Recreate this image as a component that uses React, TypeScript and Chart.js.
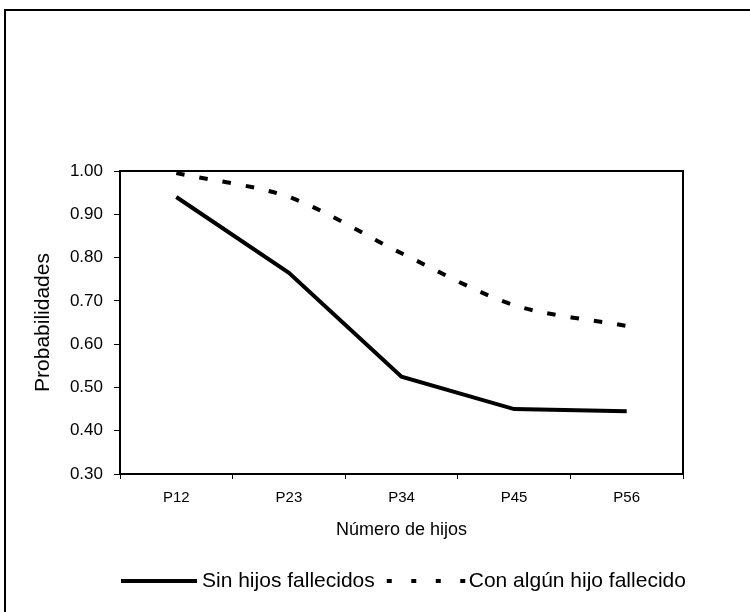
import React, { useEffect, useRef } from "react";
import { Chart, registerables } from "chart.js";

Chart.register(...registerables);

// ---- data ----
const categories = ["P12", "P23", "P34", "P45", "P56"];
const sinHijosFallecidos = [0.94, 0.765, 0.525, 0.45, 0.445];
const conAlgunHijoFallecido = [0.995, 0.94, 0.81, 0.69, 0.642];
const seriesLabels = ["Sin hijos fallecidos", "Con algún hijo fallecido"];
const yMin = 0.3;
const yMax = 1.0;
const yStep = 0.1;
const xTitle = "Número de hijos";
const yTitle = "Probabilidades";

const FONT = "'Liberation Sans', Arial, sans-serif";

const legendDashes = [[], [5, 19.5]];
const legendSampleWidths = [76, 79];
const legendTextGaps = [5, 3];

const framePlugin = {
  id: "frame",
  beforeDraw(chart: any) {
    const { ctx, width, height } = chart;
    ctx.save();
    ctx.strokeStyle = "#000";
    ctx.lineWidth = 2;
    ctx.beginPath();
    ctx.moveTo(5, height);
    ctx.lineTo(5, 10);
    ctx.lineTo(width, 10);
    ctx.stroke();
    ctx.restore();
  },
  afterDraw(chart: any) {
    const { ctx, chartArea } = chart;
    ctx.save();
    ctx.strokeStyle = "#000";
    ctx.lineWidth = 2;
    ctx.beginPath();
    ctx.moveTo(chartArea.left, chartArea.top);
    ctx.lineTo(chartArea.right, chartArea.top);
    ctx.lineTo(chartArea.right, chartArea.bottom);
    ctx.stroke();

    // legend
    ctx.font = `21px ${FONT}`;
    ctx.fillStyle = "#000";
    ctx.textBaseline = "alphabetic";
    let x = chartArea.left + 1;
    const y = 581;
    chart.data.datasets.forEach((ds: any, i: number) => {
      const w = legendSampleWidths[i];
      ctx.beginPath();
      ctx.setLineDash(legendDashes[i]);
      ctx.lineWidth = 4;
      ctx.lineCap = "butt";
      ctx.strokeStyle = ds.borderColor;
      ctx.moveTo(x, y);
      ctx.lineTo(x + w, y);
      ctx.stroke();
      ctx.setLineDash([]);
      x += w + legendTextGaps[i];
      ctx.fillText(ds.label, x, y + 6);
      x += ctx.measureText(ds.label).width + 12;
    });
    ctx.restore();
  },
};

export default function App() {
  const ref = useRef<HTMLCanvasElement | null>(null);

  useEffect(() => {
    document.body.style.margin = "0";
    const canvas = ref.current;
    if (!canvas) return;
    const chart = new Chart(canvas, {
      type: "line",
      data: {
        labels: categories,
        datasets: [
          {
            label: seriesLabels[0],
            data: sinHijosFallecidos,
            borderColor: "#000",
            backgroundColor: "#000",
            borderWidth: 4,
            pointRadius: 0,
            tension: 0,
            fill: false,
          },
          {
            label: seriesLabels[1],
            data: conAlgunHijoFallecido,
            borderColor: "#000",
            backgroundColor: "#000",
            borderWidth: 4,
            borderDash: [8.5, 15],
            pointRadius: 0,
            tension: 0.3,
            fill: false,
          },
        ],
      },
      options: {
        responsive: false,
        animation: false,
        devicePixelRatio: 1,
        layout: { padding: { left: 0, top: 171, right: 67, bottom: 58 } },
        plugins: {
          legend: { display: false },
          tooltip: { enabled: false },
        },
        scales: {
          x: {
            offset: true,
            grid: {
              offset: true,
              drawOnChartArea: false,
              drawTicks: true,
              tickLength: 5,
              tickWidth: 1,
              tickColor: "#000",
              color: "#000",
            },
            border: { display: true, color: "#000", width: 2 },
            ticks: {
              color: "#000",
              font: { family: FONT, size: 15 },
              padding: 10,
              maxRotation: 0,
              autoSkip: false,
            },
            title: {
              display: true,
              text: xTitle,
              color: "#000",
              font: { family: FONT, size: 18 },
              padding: { top: 0, bottom: 13 },
            },
            afterFit(scale: any) {
              scale.height = 80;
            },
          },
          y: {
            min: yMin,
            max: yMax,
            grid: {
              drawOnChartArea: false,
              drawTicks: true,
              tickLength: 6,
              tickWidth: 1,
              tickColor: "#000",
              color: "#000",
            },
            border: { display: true, color: "#000", width: 2 },
            ticks: {
              stepSize: yStep,
              color: "#000",
              font: { family: FONT, size: 17 },
              padding: 11,
              callback: (v: any) => Number(v).toFixed(2),
            },
            title: {
              display: true,
              text: yTitle,
              color: "#000",
              font: { family: FONT, size: 21 },
              padding: { top: 31, bottom: 0 },
            },
            afterFit(scale: any) {
              scale.width = 120;
            },
          },
        },
      },
      plugins: [framePlugin],
    } as any);
    return () => chart.destroy();
  }, []);

  return (
    <div style={{ position: "absolute", left: 0, top: 0, width: 750, height: 612, background: "#fff" }}>
      <canvas ref={ref} width={750} height={612} style={{ display: "block", width: 750, height: 612 }} />
    </div>
  );
}
